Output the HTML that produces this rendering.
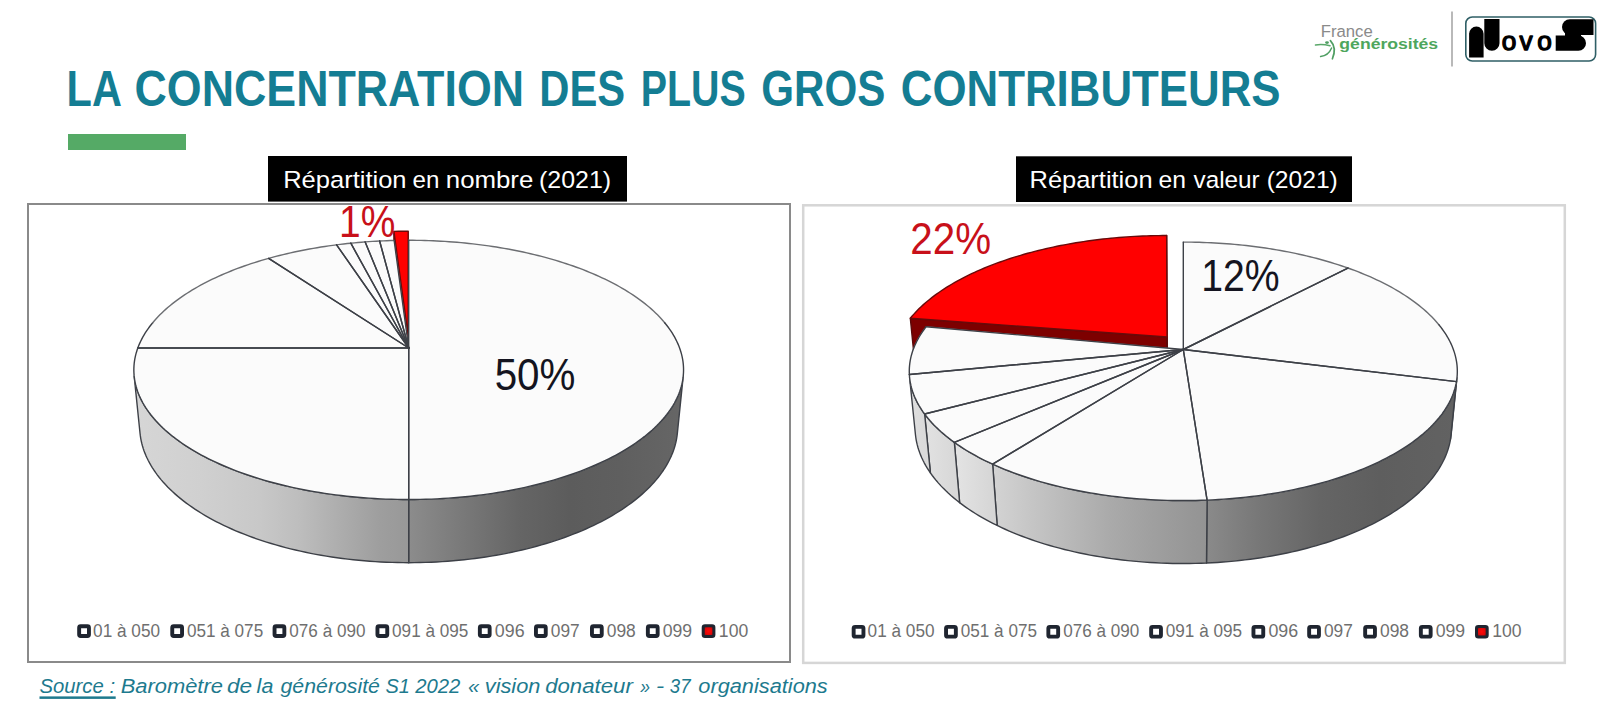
<!DOCTYPE html>
<html><head><meta charset="utf-8"><title>La concentration des plus gros contributeurs</title>
<style>
html,body{margin:0;padding:0;background:#fff;}
body{width:1605px;height:707px;overflow:hidden;position:relative;font-family:'Liberation Sans', sans-serif;}
svg{position:absolute;left:0;top:0;}
text{font-family:'Liberation Sans', sans-serif;}
</style></head><body>
<svg width="1605" height="707" viewBox="0 0 1605 707">
<defs>
<radialGradient id="rdot" cx="0.5" cy="0.5" r="0.6"><stop offset="0" stop-color="#ff0a0a"/><stop offset="0.55" stop-color="#e00808"/><stop offset="1" stop-color="#701018"/></radialGradient>
<linearGradient id="gl" gradientUnits="userSpaceOnUse" x1="130.7" y1="0" x2="686.7" y2="0"><stop offset="0.0000" stop-color="#d0d0d0"/><stop offset="0.1403" stop-color="#cdcdcd"/><stop offset="0.2482" stop-color="#c3c3c3"/><stop offset="0.3561" stop-color="#b0b0b0"/><stop offset="0.4460" stop-color="#9a9a9a"/><stop offset="0.5000" stop-color="#8e8e8e"/><stop offset="0.5899" stop-color="#7a7a7a"/><stop offset="0.6978" stop-color="#666666"/><stop offset="0.7698" stop-color="#5f5f5f"/><stop offset="1.0000" stop-color="#666666"/></linearGradient>
<linearGradient id="gr" gradientUnits="userSpaceOnUse" x1="905.3" y1="0" x2="1461.3" y2="0"><stop offset="0.0000" stop-color="#d0d0d0"/><stop offset="0.1403" stop-color="#cdcdcd"/><stop offset="0.2482" stop-color="#c3c3c3"/><stop offset="0.3561" stop-color="#b0b0b0"/><stop offset="0.4460" stop-color="#9a9a9a"/><stop offset="0.5000" stop-color="#8e8e8e"/><stop offset="0.5899" stop-color="#7a7a7a"/><stop offset="0.6978" stop-color="#666666"/><stop offset="0.7698" stop-color="#5f5f5f"/><stop offset="1.0000" stop-color="#666666"/></linearGradient>
</defs>
<rect x="0" y="0" width="1605" height="707" fill="#ffffff"/>
<!-- title -->
<text x="66.62" y="105.50" font-size="50.20" font-weight="bold" fill="#147d93" textLength="55.25" lengthAdjust="spacingAndGlyphs">LA</text><text x="134.52" y="105.50" font-size="50.20" font-weight="bold" fill="#147d93" textLength="389.51" lengthAdjust="spacingAndGlyphs">CONCENTRATION</text><text x="539.30" y="105.50" font-size="50.20" font-weight="bold" fill="#147d93" textLength="85.84" lengthAdjust="spacingAndGlyphs">DES</text><text x="640.85" y="105.50" font-size="50.20" font-weight="bold" fill="#147d93" textLength="104.92" lengthAdjust="spacingAndGlyphs">PLUS</text><text x="761.32" y="105.50" font-size="50.20" font-weight="bold" fill="#147d93" textLength="124.11" lengthAdjust="spacingAndGlyphs">GROS</text><text x="900.85" y="105.50" font-size="50.20" font-weight="bold" fill="#147d93" textLength="379.72" lengthAdjust="spacingAndGlyphs">CONTRIBUTEURS</text>
<rect x="68" y="134" width="118" height="16" fill="#55aa66"/>
<!-- logos -->
<text x="1320.72" y="36.50" font-size="16.30" fill="#8a8a8a" textLength="52.02" lengthAdjust="spacingAndGlyphs">France</text>
<text x="1339.36" y="48.80" font-size="13.80" font-weight="bold" fill="#4ea65d" textLength="98.81" lengthAdjust="spacingAndGlyphs">générosités</text>
<path d="M1315.5 45 Q1322 43.6 1330 45.8" fill="none" stroke="#5aa86a" stroke-width="1.5" stroke-linecap="round"/>
<path d="M1330.4 40.6 C1334.5 45 1335.2 52 1332.4 58.8" fill="none" stroke="#4f9e62" stroke-width="1.7" stroke-linecap="round"/>
<path d="M1331.6 48 C1329.5 53 1325.5 56 1320.6 56.6" fill="none" stroke="#4f9e62" stroke-width="1.5" stroke-linecap="round"/>
<ellipse cx="1327" cy="42.6" rx="1.9" ry="1.4" fill="#4f9e62"/>
<rect x="1451.2" y="11.5" width="1.6" height="55" fill="#a8a8a8"/>
<rect x="1465.8" y="17" width="129.8" height="44" rx="6.5" fill="#ffffff" stroke="#2f5f66" stroke-width="1.6"/>
<path d="M1469.1 57.5 L1469.1 33.8 A7.25 7.25 0 0 1 1483.6 33.8 L1483.6 57.5 Z" fill="#000"/>
<path d="M1484.3 19.1 L1499.5 19.1 L1499.5 43.2 A7.6 7.6 0 0 1 1484.3 43.2 Z" fill="#000"/>
<g aria-label="NovoS"><text x="1501.8 1519.4 1537.2" y="49.6" font-size="26.2" fill="#000" stroke="#000" stroke-width="1.3" stroke-linejoin="round">ovo</text></g>
<path d="M1593.5 19.3 L1569.8 19.3 A7.8 7.8 0 0 0 1569.8 34.9 L1593.5 34.9 Z" fill="#000"/>
<path d="M1555.7 35.6 L1578.4 35.6 A7.6 7.6 0 0 1 1578.4 50.8 L1555.7 50.8 Z" fill="#000"/>
<rect x="1565" y="33" width="16" height="4" fill="#000"/>
<!-- chart titles -->
<rect x="268" y="156" width="359" height="45.6" fill="#000"/>
<text x="283.20" y="188.00" font-size="24.30" fill="#ffffff" textLength="123.37" lengthAdjust="spacingAndGlyphs">Répartition</text><text x="412.51" y="188.00" font-size="24.30" fill="#ffffff" textLength="26.81" lengthAdjust="spacingAndGlyphs">en</text><text x="445.81" y="188.00" font-size="24.30" fill="#ffffff" textLength="87.50" lengthAdjust="spacingAndGlyphs">nombre</text><text x="539.06" y="188.00" font-size="24.30" fill="#ffffff" textLength="72.06" lengthAdjust="spacingAndGlyphs">(2021)</text>
<rect x="1016" y="156.3" width="336" height="45.7" fill="#000"/>
<text x="1029.51" y="188.20" font-size="24.30" fill="#ffffff" textLength="123.07" lengthAdjust="spacingAndGlyphs">Répartition</text><text x="1158.58" y="188.20" font-size="24.30" fill="#ffffff" textLength="27.47" lengthAdjust="spacingAndGlyphs">en</text><text x="1193.50" y="188.20" font-size="24.30" fill="#ffffff" textLength="66.23" lengthAdjust="spacingAndGlyphs">valeur</text><text x="1266.68" y="188.20" font-size="24.30" fill="#ffffff" textLength="71.12" lengthAdjust="spacingAndGlyphs">(2021)</text>
<!-- frames -->
<rect x="28" y="204" width="762" height="458" fill="none" stroke="#8a8a8a" stroke-width="2"/>
<rect x="803.2" y="205.3" width="761.6" height="457.6" fill="none" stroke="#d6d6d6" stroke-width="2.5"/>
<!-- pies -->
<path d="M408.17 335.62 L393.90 231.37 L394.15 280.66 L408.18 390.79 Z" fill="#8a0000" stroke="#5a0a0a" stroke-width="1.40" stroke-linejoin="round"/>
<path d="M408.17 335.62 L393.90 231.37 L398.68 231.27 L403.46 231.21 L408.24 231.19 Z" fill="#ff0000" stroke="#6a0a0a" stroke-width="1.40" stroke-linejoin="round"/>
<linearGradient id="gl_s0" gradientUnits="userSpaceOnUse" x1="409.0" y1="0" x2="684.0" y2="0"><stop offset="0.0000" stop-color="#8c8c8c"/><stop offset="0.1855" stop-color="#7a7a7a"/><stop offset="0.4036" stop-color="#656565"/><stop offset="0.5855" stop-color="#5c5c5c"/><stop offset="0.7673" stop-color="#5f5f5f"/><stop offset="1.0000" stop-color="#666666"/></linearGradient>
<path d="M683.23 376.17 L682.94 378.50 L682.57 380.83 L682.11 383.17 L681.55 385.51 L680.90 387.85 L680.16 390.20 L679.32 392.54 L678.40 394.88 L677.37 397.23 L676.26 399.56 L675.04 401.90 L673.73 404.23 L672.33 406.56 L670.83 408.88 L669.23 411.19 L667.54 413.50 L665.75 415.79 L663.86 418.08 L661.88 420.36 L659.79 422.62 L657.61 424.87 L655.34 427.11 L652.97 429.33 L650.50 431.53 L647.93 433.72 L645.27 435.89 L642.51 438.04 L639.66 440.17 L636.71 442.28 L633.67 444.37 L630.53 446.44 L627.30 448.48 L623.98 450.49 L620.57 452.48 L617.06 454.44 L613.47 456.37 L609.78 458.27 L606.01 460.14 L602.16 461.98 L598.22 463.79 L594.19 465.56 L590.08 467.29 L585.89 469.00 L581.62 470.66 L577.27 472.29 L572.84 473.87 L568.34 475.42 L563.76 476.93 L559.12 478.39 L554.40 479.82 L549.61 481.20 L544.76 482.53 L539.84 483.82 L534.87 485.06 L529.83 486.26 L524.73 487.41 L519.58 488.51 L514.37 489.56 L509.12 490.57 L503.81 491.52 L498.46 492.42 L493.07 493.27 L487.63 494.07 L482.16 494.81 L476.65 495.50 L471.10 496.14 L465.53 496.73 L459.93 497.26 L454.30 497.73 L448.65 498.15 L442.98 498.52 L437.29 498.82 L431.59 499.08 L425.88 499.27 L420.16 499.41 L414.43 499.50 L408.70 499.53 L408.70 562.68 L414.29 562.66 L419.87 562.57 L425.45 562.42 L431.02 562.21 L436.58 561.95 L442.13 561.63 L447.66 561.25 L453.17 560.81 L458.66 560.31 L464.13 559.76 L469.57 559.15 L474.97 558.48 L480.35 557.76 L485.69 556.98 L490.99 556.15 L496.26 555.26 L501.48 554.32 L506.66 553.33 L511.79 552.28 L516.87 551.18 L521.90 550.03 L526.87 548.83 L531.79 547.58 L536.65 546.28 L541.45 544.93 L546.19 543.54 L550.87 542.10 L555.48 540.61 L560.02 539.08 L564.49 537.50 L568.89 535.88 L573.22 534.22 L577.47 532.52 L581.65 530.78 L585.75 529.01 L589.77 527.19 L593.71 525.33 L597.57 523.45 L601.34 521.52 L605.03 519.56 L608.64 517.58 L612.16 515.55 L615.59 513.50 L618.94 511.42 L622.19 509.31 L625.36 507.18 L628.43 505.02 L631.42 502.83 L634.31 500.62 L637.11 498.39 L639.82 496.14 L642.43 493.86 L644.96 491.57 L647.38 489.26 L649.72 486.93 L651.96 484.59 L654.10 482.23 L656.15 479.85 L658.11 477.47 L659.97 475.07 L661.73 472.66 L663.41 470.24 L664.98 467.82 L666.47 465.38 L667.86 462.94 L669.15 460.49 L670.36 458.04 L671.47 455.59 L672.48 453.13 L673.41 450.67 L674.24 448.21 L674.99 445.74 L675.64 443.28 L676.20 440.82 L676.67 438.37 L677.05 435.91 L677.35 433.46 Z" fill="url(#gl_s0)" stroke="#3d4047" stroke-width="1.40" stroke-linejoin="round"/>
<linearGradient id="gl_s1" gradientUnits="userSpaceOnUse" x1="134.0" y1="0" x2="409.0" y2="0"><stop offset="0.0000" stop-color="#d6d6d6"/><stop offset="0.2400" stop-color="#d0d0d0"/><stop offset="0.4582" stop-color="#c8c8c8"/><stop offset="0.6036" stop-color="#bdbdbd"/><stop offset="0.7491" stop-color="#adadad"/><stop offset="0.8945" stop-color="#9e9e9e"/><stop offset="1.0000" stop-color="#989898"/></linearGradient>
<path d="M408.70 499.53 L402.97 499.50 L397.24 499.41 L391.52 499.27 L385.81 499.08 L380.11 498.82 L374.42 498.52 L368.75 498.15 L363.10 497.73 L357.47 497.26 L351.87 496.73 L346.30 496.14 L340.75 495.50 L335.24 494.81 L329.77 494.07 L324.33 493.27 L318.94 492.42 L313.59 491.52 L308.28 490.57 L303.03 489.56 L297.82 488.51 L292.67 487.41 L287.57 486.26 L282.53 485.06 L277.56 483.82 L272.64 482.53 L267.79 481.20 L263.00 479.82 L258.28 478.39 L253.64 476.93 L249.06 475.42 L244.56 473.87 L240.13 472.29 L235.78 470.66 L231.51 469.00 L227.32 467.29 L223.21 465.56 L219.18 463.79 L215.24 461.98 L211.39 460.14 L207.62 458.27 L203.93 456.37 L200.34 454.44 L196.83 452.48 L193.42 450.49 L190.10 448.48 L186.87 446.44 L183.73 444.37 L180.69 442.28 L177.74 440.17 L174.89 438.04 L172.13 435.89 L169.47 433.72 L166.90 431.53 L164.43 429.33 L162.06 427.11 L159.79 424.87 L157.61 422.62 L155.52 420.36 L153.54 418.08 L151.65 415.79 L149.86 413.50 L148.17 411.19 L146.57 408.88 L145.07 406.56 L143.67 404.23 L142.36 401.90 L141.14 399.56 L140.03 397.23 L139.00 394.88 L138.08 392.54 L137.24 390.20 L136.50 387.85 L135.85 385.51 L135.29 383.17 L134.83 380.83 L134.46 378.50 L134.17 376.17 L140.05 433.46 L140.35 435.91 L140.73 438.37 L141.20 440.82 L141.76 443.28 L142.41 445.74 L143.16 448.21 L143.99 450.67 L144.92 453.13 L145.93 455.59 L147.04 458.04 L148.25 460.49 L149.54 462.94 L150.93 465.38 L152.42 467.82 L153.99 470.24 L155.67 472.66 L157.43 475.07 L159.29 477.47 L161.25 479.85 L163.30 482.23 L165.44 484.59 L167.68 486.93 L170.02 489.26 L172.44 491.57 L174.97 493.86 L177.58 496.14 L180.29 498.39 L183.09 500.62 L185.98 502.83 L188.97 505.02 L192.04 507.18 L195.21 509.31 L198.46 511.42 L201.81 513.50 L205.24 515.55 L208.76 517.58 L212.37 519.56 L216.06 521.52 L219.83 523.45 L223.69 525.33 L227.63 527.19 L231.65 529.01 L235.75 530.78 L239.93 532.52 L244.18 534.22 L248.51 535.88 L252.91 537.50 L257.38 539.08 L261.92 540.61 L266.53 542.10 L271.21 543.54 L275.95 544.93 L280.75 546.28 L285.61 547.58 L290.53 548.83 L295.50 550.03 L300.53 551.18 L305.61 552.28 L310.74 553.33 L315.92 554.32 L321.14 555.26 L326.41 556.15 L331.71 556.98 L337.05 557.76 L342.43 558.48 L347.83 559.15 L353.27 559.76 L358.74 560.31 L364.23 560.81 L369.74 561.25 L375.27 561.63 L380.82 561.95 L386.38 562.21 L391.95 562.42 L397.53 562.57 L403.11 562.66 L408.70 562.68 Z" fill="url(#gl_s1)" stroke="#3d4047" stroke-width="1.40" stroke-linejoin="round"/>
<path d="M408.70 348.00 L408.70 240.28 L412.74 240.29 L416.79 240.33 L420.83 240.40 L424.87 240.50 L428.91 240.63 L432.94 240.78 L436.97 240.97 L441.00 241.18 L445.02 241.41 L449.03 241.68 L453.04 241.98 L457.03 242.30 L461.02 242.65 L465.00 243.03 L468.98 243.43 L472.94 243.87 L476.88 244.33 L480.82 244.82 L484.75 245.34 L488.66 245.88 L492.55 246.46 L496.43 247.06 L500.30 247.69 L504.15 248.35 L507.98 249.03 L511.80 249.74 L515.59 250.48 L519.37 251.25 L523.12 252.04 L526.86 252.87 L530.57 253.72 L534.26 254.59 L537.93 255.50 L541.57 256.43 L545.19 257.39 L548.78 258.38 L552.35 259.39 L555.88 260.43 L559.39 261.50 L562.87 262.59 L566.32 263.71 L569.74 264.86 L573.13 266.03 L576.49 267.23 L579.81 268.46 L583.10 269.71 L586.35 270.99 L589.57 272.30 L592.75 273.63 L595.89 274.99 L598.99 276.37 L602.06 277.78 L605.08 279.21 L608.06 280.67 L611.00 282.15 L613.90 283.66 L616.75 285.20 L619.55 286.75 L622.31 288.34 L625.03 289.94 L627.69 291.57 L630.31 293.23 L632.87 294.90 L635.39 296.61 L637.85 298.33 L640.26 300.08 L642.62 301.84 L644.92 303.64 L647.16 305.45 L649.35 307.28 L651.48 309.14 L653.55 311.02 L655.56 312.92 L657.51 314.84 L659.40 316.77 L661.23 318.73 L662.99 320.71 L664.68 322.71 L666.31 324.72 L667.88 326.76 L669.37 328.81 L670.80 330.88 L672.15 332.96 L673.44 335.07 L674.65 337.18 L675.79 339.32 L676.85 341.47 L677.84 343.63 L678.76 345.81 L679.60 348.00 L680.36 350.20 L681.04 352.42 L681.64 354.65 L682.16 356.89 L682.60 359.14 L682.96 361.40 L683.23 363.67 L683.42 365.95 L683.53 368.23 L683.55 370.53 L683.48 372.83 L683.32 375.13 L683.08 377.45 L682.75 379.76 L682.33 382.08 L681.82 384.40 L681.22 386.73 L680.53 389.06 L679.75 391.38 L678.87 393.71 L677.91 396.04 L676.84 398.36 L675.69 400.68 L674.44 403.00 L673.10 405.31 L671.66 407.62 L670.12 409.92 L668.50 412.21 L666.77 414.50 L664.95 416.77 L663.04 419.04 L661.03 421.29 L658.92 423.53 L656.72 425.76 L654.42 427.98 L652.03 430.18 L649.54 432.36 L646.95 434.53 L644.28 436.68 L641.50 438.80 L638.64 440.91 L635.68 443.00 L632.63 445.07 L629.48 447.11 L626.25 449.12 L622.92 451.12 L619.50 453.08 L616.00 455.02 L612.40 456.93 L608.72 458.81 L604.95 460.65 L601.10 462.47 L597.16 464.26 L593.14 466.01 L589.04 467.72 L584.86 469.40 L580.60 471.05 L576.26 472.65 L571.85 474.22 L567.37 475.75 L562.81 477.23 L558.18 478.68 L553.48 480.09 L548.72 481.45 L543.89 482.76 L539.00 484.04 L534.04 485.26 L529.03 486.44 L523.96 487.58 L518.84 488.66 L513.66 489.70 L508.44 490.69 L503.17 491.63 L497.85 492.52 L492.49 493.36 L487.09 494.14 L481.65 494.88 L476.17 495.56 L470.67 496.19 L465.13 496.77 L459.57 497.29 L453.98 497.76 L448.37 498.17 L442.74 498.53 L437.09 498.83 L431.43 499.08 L425.76 499.28 L420.08 499.42 L414.39 499.50 L408.70 499.53 Z" fill="#fbfbfb" stroke="#fbfbfb" stroke-width="0.4"/>
<path d="M408.70 348.00 L408.70 499.53 L403.01 499.50 L397.32 499.42 L391.64 499.28 L385.97 499.08 L380.31 498.83 L374.66 498.53 L369.03 498.17 L363.42 497.76 L357.83 497.29 L352.27 496.77 L346.73 496.19 L341.23 495.56 L335.75 494.88 L330.31 494.14 L324.91 493.36 L319.55 492.52 L314.23 491.63 L308.96 490.69 L303.74 489.70 L298.56 488.66 L293.44 487.58 L288.37 486.44 L283.36 485.26 L278.40 484.04 L273.51 482.76 L268.68 481.45 L263.92 480.09 L259.22 478.68 L254.59 477.23 L250.03 475.75 L245.55 474.22 L241.14 472.65 L236.80 471.05 L232.54 469.40 L228.36 467.72 L224.26 466.01 L220.24 464.26 L216.30 462.47 L212.45 460.65 L208.68 458.81 L205.00 456.93 L201.40 455.02 L197.90 453.08 L194.48 451.12 L191.15 449.12 L187.92 447.11 L184.77 445.07 L181.72 443.00 L178.76 440.91 L175.90 438.80 L173.12 436.68 L170.45 434.53 L167.86 432.36 L165.37 430.18 L162.98 427.98 L160.68 425.76 L158.48 423.53 L156.37 421.29 L154.36 419.04 L152.45 416.77 L150.63 414.50 L148.90 412.21 L147.28 409.92 L145.74 407.62 L144.30 405.31 L142.96 403.00 L141.71 400.68 L140.56 398.36 L139.49 396.04 L138.53 393.71 L137.65 391.38 L136.87 389.06 L136.18 386.73 L135.58 384.40 L135.07 382.08 L134.65 379.76 L134.32 377.45 L134.08 375.13 L133.92 372.83 L133.85 370.53 L133.87 368.23 L133.98 365.95 L134.17 363.67 L134.44 361.40 L134.80 359.14 L135.24 356.89 L135.76 354.65 L136.36 352.42 L137.04 350.20 L137.80 348.00 Z" fill="#fbfbfb" stroke="#fbfbfb" stroke-width="0.4"/>
<path d="M408.70 348.00 L137.80 348.00 L138.64 345.81 L139.56 343.63 L140.55 341.47 L141.61 339.32 L142.75 337.18 L143.96 335.07 L145.25 332.96 L146.60 330.88 L148.03 328.81 L149.52 326.76 L151.09 324.72 L152.72 322.71 L154.41 320.71 L156.17 318.73 L158.00 316.77 L159.89 314.84 L161.84 312.92 L163.85 311.02 L165.92 309.14 L168.05 307.28 L170.24 305.45 L172.48 303.64 L174.78 301.84 L177.14 300.08 L179.55 298.33 L182.01 296.61 L184.53 294.90 L187.09 293.23 L189.71 291.57 L192.37 289.94 L195.09 288.34 L197.85 286.75 L200.65 285.20 L203.50 283.66 L206.40 282.15 L209.34 280.67 L212.32 279.21 L215.34 277.78 L218.41 276.37 L221.51 274.99 L224.65 273.63 L227.83 272.30 L231.05 270.99 L234.30 269.71 L237.59 268.46 L240.91 267.23 L244.27 266.03 L247.66 264.86 L251.08 263.71 L254.53 262.59 L258.01 261.50 L261.52 260.43 L265.05 259.39 L268.62 258.38 Z" fill="#fbfbfb" stroke="#fbfbfb" stroke-width="0.4"/>
<path d="M408.70 348.00 L268.62 258.38 L272.21 257.39 L275.83 256.43 L279.47 255.50 L283.14 254.59 L286.83 253.72 L290.54 252.87 L294.28 252.04 L298.03 251.25 L301.81 250.48 L305.60 249.74 L309.42 249.03 L313.25 248.35 L317.10 247.69 L320.97 247.06 L324.85 246.46 L328.74 245.88 L332.65 245.34 L336.58 244.82 Z" fill="#fbfbfb" stroke="#fbfbfb" stroke-width="0.4"/>
<path d="M408.70 348.00 L336.58 244.82 L341.30 244.23 L346.05 243.69 L350.81 243.19 Z" fill="#fbfbfb" stroke="#fbfbfb" stroke-width="0.4"/>
<path d="M408.70 348.00 L350.81 243.19 L355.58 242.72 L360.37 242.30 L365.16 241.91 Z" fill="#fbfbfb" stroke="#fbfbfb" stroke-width="0.4"/>
<path d="M408.70 348.00 L365.16 241.91 L369.97 241.57 L374.79 241.27 L379.62 241.00 Z" fill="#fbfbfb" stroke="#fbfbfb" stroke-width="0.4"/>
<path d="M408.70 348.00 L379.62 241.00 L384.46 240.78 L389.30 240.60 L394.14 240.46 Z" fill="#fbfbfb" stroke="#fbfbfb" stroke-width="0.4"/>
<path d="M408.70 240.28 L412.74 240.29 L416.79 240.33 L420.83 240.40 L424.87 240.50 L428.91 240.63 L432.94 240.78 L436.97 240.97 L441.00 241.18 L445.02 241.41 L449.03 241.68 L453.04 241.98 L457.03 242.30 L461.02 242.65 L465.00 243.03 L468.98 243.43 L472.94 243.87 L476.88 244.33 L480.82 244.82 L484.75 245.34 L488.66 245.88 L492.55 246.46 L496.43 247.06 L500.30 247.69 L504.15 248.35 L507.98 249.03 L511.80 249.74 L515.59 250.48 L519.37 251.25 L523.12 252.04 L526.86 252.87 L530.57 253.72 L534.26 254.59 L537.93 255.50 L541.57 256.43 L545.19 257.39 L548.78 258.38 L552.35 259.39 L555.88 260.43 L559.39 261.50 L562.87 262.59 L566.32 263.71 L569.74 264.86 L573.13 266.03 L576.49 267.23 L579.81 268.46 L583.10 269.71 L586.35 270.99 L589.57 272.30 L592.75 273.63 L595.89 274.99 L598.99 276.37 L602.06 277.78 L605.08 279.21 L608.06 280.67 L611.00 282.15 L613.90 283.66 L616.75 285.20 L619.55 286.75 L622.31 288.34 L625.03 289.94 L627.69 291.57 L630.31 293.23 L632.87 294.90 L635.39 296.61 L637.85 298.33 L640.26 300.08 L642.62 301.84 L644.92 303.64 L647.16 305.45 L649.35 307.28 L651.48 309.14 L653.55 311.02 L655.56 312.92 L657.51 314.84 L659.40 316.77 L661.23 318.73 L662.99 320.71 L664.68 322.71" fill="none" stroke="#6c6e72" stroke-width="1.40" stroke-linecap="round"/>
<path d="M664.68 322.71 L666.31 324.72 L667.88 326.76 L669.37 328.81 L670.80 330.88 L672.15 332.96 L673.44 335.07 L674.65 337.18 L675.79 339.32 L676.85 341.47 L677.84 343.63 L678.76 345.81 L679.60 348.00 L680.36 350.20 L681.04 352.42 L681.64 354.65 L682.16 356.89 L682.60 359.14 L682.96 361.40 L683.23 363.67 L683.42 365.95 L683.53 368.23 L683.55 370.53 L683.48 372.83 L683.32 375.13 L683.08 377.45 L682.75 379.76 L682.33 382.08 L681.82 384.40 L681.22 386.73 L680.53 389.06 L679.75 391.38 L678.87 393.71 L677.91 396.04 L676.84 398.36 L675.69 400.68 L674.44 403.00 L673.10 405.31 L671.66 407.62 L670.12 409.92 L668.50 412.21 L666.77 414.50 L664.95 416.77 L663.04 419.04 L661.03 421.29 L658.92 423.53 L656.72 425.76 L654.42 427.98 L652.03 430.18 L649.54 432.36 L646.95 434.53 L644.28 436.68 L641.50 438.80 L638.64 440.91 L635.68 443.00 L632.63 445.07 L629.48 447.11 L626.25 449.12 L622.92 451.12 L619.50 453.08 L616.00 455.02 L612.40 456.93 L608.72 458.81 L604.95 460.65 L601.10 462.47 L597.16 464.26 L593.14 466.01 L589.04 467.72 L584.86 469.40 L580.60 471.05 L576.26 472.65 L571.85 474.22 L567.37 475.75 L562.81 477.23 L558.18 478.68 L553.48 480.09 L548.72 481.45 L543.89 482.76 L539.00 484.04 L534.04 485.26 L529.03 486.44 L523.96 487.58 L518.84 488.66 L513.66 489.70 L508.44 490.69 L503.17 491.63 L497.85 492.52 L492.49 493.36 L487.09 494.14 L481.65 494.88 L476.17 495.56 L470.67 496.19 L465.13 496.77 L459.57 497.29 L453.98 497.76 L448.37 498.17 L442.74 498.53 L437.09 498.83 L431.43 499.08 L425.76 499.28 L420.08 499.42 L414.39 499.50 L408.70 499.53 L403.01 499.50 L397.32 499.42 L391.64 499.28 L385.97 499.08 L380.31 498.83 L374.66 498.53 L369.03 498.17 L363.42 497.76 L357.83 497.29 L352.27 496.77 L346.73 496.19 L341.23 495.56 L335.75 494.88 L330.31 494.14 L324.91 493.36 L319.55 492.52 L314.23 491.63 L308.96 490.69 L303.74 489.70 L298.56 488.66 L293.44 487.58 L288.37 486.44 L283.36 485.26 L278.40 484.04 L273.51 482.76 L268.68 481.45 L263.92 480.09 L259.22 478.68 L254.59 477.23 L250.03 475.75 L245.55 474.22 L241.14 472.65 L236.80 471.05 L232.54 469.40 L228.36 467.72 L224.26 466.01 L220.24 464.26 L216.30 462.47 L212.45 460.65 L208.68 458.81 L205.00 456.93 L201.40 455.02 L197.90 453.08 L194.48 451.12 L191.15 449.12 L187.92 447.11 L184.77 445.07 L181.72 443.00 L178.76 440.91 L175.90 438.80 L173.12 436.68 L170.45 434.53 L167.86 432.36 L165.37 430.18 L162.98 427.98 L160.68 425.76 L158.48 423.53 L156.37 421.29 L154.36 419.04 L152.45 416.77 L150.63 414.50 L148.90 412.21 L147.28 409.92 L145.74 407.62 L144.30 405.31 L142.96 403.00 L141.71 400.68 L140.56 398.36 L139.49 396.04 L138.53 393.71 L137.65 391.38 L136.87 389.06 L136.18 386.73 L135.58 384.40 L135.07 382.08 L134.65 379.76 L134.32 377.45 L134.08 375.13 L133.92 372.83 L133.85 370.53 L133.87 368.23 L133.98 365.95 L134.17 363.67 L134.44 361.40 L134.80 359.14 L135.24 356.89 L135.76 354.65 L136.36 352.42 L137.04 350.20 L137.80 348.00 L138.64 345.81 L139.56 343.63 L140.55 341.47 L141.61 339.32 L142.75 337.18 L143.96 335.07 L145.25 332.96 L146.60 330.88 L148.03 328.81 L149.52 326.76 L151.09 324.72 L152.72 322.71" fill="none" stroke="#3d4047" stroke-width="1.40" stroke-linecap="round"/>
<path d="M152.72 322.71 L154.41 320.71 L156.17 318.73 L158.00 316.77 L159.89 314.84 L161.84 312.92 L163.85 311.02 L165.92 309.14 L168.05 307.28 L170.24 305.45 L172.48 303.64 L174.78 301.84 L177.14 300.08 L179.55 298.33 L182.01 296.61 L184.53 294.90 L187.09 293.23 L189.71 291.57 L192.37 289.94 L195.09 288.34 L197.85 286.75 L200.65 285.20 L203.50 283.66 L206.40 282.15 L209.34 280.67 L212.32 279.21 L215.34 277.78 L218.41 276.37 L221.51 274.99 L224.65 273.63 L227.83 272.30 L231.05 270.99 L234.30 269.71 L237.59 268.46 L240.91 267.23 L244.27 266.03 L247.66 264.86 L251.08 263.71 L254.53 262.59 L258.01 261.50 L261.52 260.43 L265.05 259.39 L268.62 258.38 L272.21 257.39 L275.83 256.43 L279.47 255.50 L283.14 254.59 L286.83 253.72 L290.54 252.87 L294.28 252.04 L298.03 251.25 L301.81 250.48 L305.60 249.74 L309.42 249.03 L313.25 248.35 L317.10 247.69 L320.97 247.06 L324.85 246.46 L328.74 245.88 L332.65 245.34 L336.58 244.82 L340.12 244.38 L343.67 243.96 L347.24 243.56 L350.81 243.19 L354.38 242.83 L357.97 242.50 L361.56 242.20 L365.16 241.91 L368.77 241.65 L372.38 241.41 L376.00 241.20 L379.62 241.00 L383.25 240.83 L386.88 240.69 L390.51 240.56 L394.14 240.46" fill="none" stroke="#6c6e72" stroke-width="1.40" stroke-linecap="round"/>
<path d="M408.70 348.00 L408.70 240.28" fill="none" stroke="#3d4047" stroke-width="1.40" stroke-linecap="round"/>
<path d="M408.70 348.00 L408.70 499.53" fill="none" stroke="#3d4047" stroke-width="1.40" stroke-linecap="round"/>
<path d="M408.70 348.00 L408.70 499.53" fill="none" stroke="#3d4047" stroke-width="1.40" stroke-linecap="round"/>
<path d="M408.70 348.00 L137.80 348.00" fill="none" stroke="#3d4047" stroke-width="1.40" stroke-linecap="round"/>
<path d="M408.70 348.00 L137.80 348.00" fill="none" stroke="#3d4047" stroke-width="1.40" stroke-linecap="round"/>
<path d="M408.70 348.00 L268.62 258.38" fill="none" stroke="#3d4047" stroke-width="1.40" stroke-linecap="round"/>
<path d="M408.70 348.00 L268.62 258.38" fill="none" stroke="#3d4047" stroke-width="1.40" stroke-linecap="round"/>
<path d="M408.70 348.00 L336.58 244.82" fill="none" stroke="#3d4047" stroke-width="1.40" stroke-linecap="round"/>
<path d="M408.70 348.00 L336.58 244.82" fill="none" stroke="#3d4047" stroke-width="1.40" stroke-linecap="round"/>
<path d="M408.70 348.00 L350.81 243.19" fill="none" stroke="#3d4047" stroke-width="1.40" stroke-linecap="round"/>
<path d="M408.70 348.00 L350.81 243.19" fill="none" stroke="#3d4047" stroke-width="1.40" stroke-linecap="round"/>
<path d="M408.70 348.00 L365.16 241.91" fill="none" stroke="#3d4047" stroke-width="1.40" stroke-linecap="round"/>
<path d="M408.70 348.00 L365.16 241.91" fill="none" stroke="#3d4047" stroke-width="1.40" stroke-linecap="round"/>
<path d="M408.70 348.00 L379.62 241.00" fill="none" stroke="#3d4047" stroke-width="1.40" stroke-linecap="round"/>
<path d="M408.70 348.00 L379.62 241.00" fill="none" stroke="#3d4047" stroke-width="1.40" stroke-linecap="round"/>
<path d="M408.70 348.00 L394.14 240.46" fill="none" stroke="#3d4047" stroke-width="1.40" stroke-linecap="round"/>
<path d="M1167.07 336.94 L910.31 318.28 L915.72 372.27 L1167.47 392.14 Z" fill="#7d0000" stroke="#5a0a0a" stroke-width="1.40" stroke-linejoin="round"/>
<path d="M1167.07 336.94 L1166.65 235.54 L1166.95 284.81 L1167.47 392.14 Z" fill="#7d0000" stroke="#5a0a0a" stroke-width="1.40" stroke-linejoin="round"/>
<path d="M1167.07 336.94 L910.31 318.28 L911.95 316.31 L913.66 314.35 L915.43 312.42 L917.26 310.50 L919.16 308.61 L921.12 306.73 L923.13 304.87 L925.21 303.03 L927.35 301.22 L929.54 299.42 L931.79 297.65 L934.09 295.89 L936.45 294.16 L938.86 292.45 L941.33 290.76 L943.84 289.10 L946.41 287.45 L949.02 285.83 L951.68 284.24 L954.40 282.66 L957.15 281.11 L959.96 279.59 L962.80 278.08 L965.69 276.60 L968.63 275.15 L971.60 273.72 L974.62 272.32 L977.67 270.94 L980.77 269.58 L983.90 268.25 L987.07 266.95 L990.28 265.67 L993.52 264.41 L996.79 263.18 L1000.10 261.98 L1003.45 260.80 L1006.82 259.65 L1010.23 258.53 L1013.66 257.43 L1017.12 256.35 L1020.62 255.31 L1024.14 254.29 L1027.69 253.29 L1031.26 252.33 L1034.86 251.39 L1038.48 250.47 L1042.13 249.58 L1045.79 248.72 L1049.48 247.89 L1053.20 247.08 L1056.93 246.30 L1060.68 245.55 L1064.45 244.82 L1068.24 244.12 L1072.05 243.45 L1075.87 242.81 L1079.71 242.19 L1083.56 241.60 L1087.43 241.04 L1091.31 240.50 L1095.20 239.99 L1099.11 239.51 L1103.02 239.06 L1106.95 238.63 L1110.89 238.23 L1114.84 237.86 L1118.79 237.52 L1122.75 237.20 L1126.72 236.91 L1130.70 236.65 L1134.68 236.42 L1138.67 236.21 L1142.66 236.03 L1146.65 235.88 L1150.65 235.76 L1154.65 235.66 L1158.65 235.59 L1162.65 235.55 L1166.65 235.54 Z" fill="#ff0000" stroke="#6a0a0a" stroke-width="1.40" stroke-linejoin="round"/>
<path d="M1457.00 377.58 L1456.45 381.63 L1450.57 438.96 L1451.14 434.71 Z" fill="url(#gr)" stroke="#3d4047" stroke-width="1.40" stroke-linejoin="round"/>
<linearGradient id="gr_s2" gradientUnits="userSpaceOnUse" x1="1207.0" y1="0" x2="1457.0" y2="0"><stop offset="0.0000" stop-color="#8a8a8a"/><stop offset="0.2120" stop-color="#777777"/><stop offset="0.4520" stop-color="#656565"/><stop offset="0.6920" stop-color="#5e5e5e"/><stop offset="1.0000" stop-color="#626262"/></linearGradient>
<path d="M1456.45 381.63 L1456.01 383.96 L1455.48 386.30 L1454.86 388.64 L1454.14 390.98 L1453.33 393.32 L1452.43 395.65 L1451.43 397.99 L1450.34 400.33 L1449.15 402.66 L1447.87 404.99 L1446.49 407.31 L1445.02 409.63 L1443.45 411.94 L1441.78 414.24 L1440.02 416.54 L1438.15 418.82 L1436.20 421.10 L1434.14 423.36 L1431.99 425.61 L1429.74 427.85 L1427.39 430.07 L1424.95 432.27 L1422.41 434.46 L1419.78 436.63 L1417.04 438.79 L1414.22 440.92 L1411.30 443.03 L1408.28 445.12 L1405.17 447.18 L1401.97 449.22 L1398.67 451.24 L1395.28 453.23 L1391.81 455.19 L1388.24 457.13 L1384.58 459.03 L1380.84 460.91 L1377.00 462.75 L1373.09 464.56 L1369.08 466.34 L1365.00 468.08 L1360.83 469.78 L1356.58 471.45 L1352.26 473.08 L1347.86 474.68 L1343.38 476.23 L1338.82 477.74 L1334.20 479.21 L1329.50 480.64 L1324.74 482.03 L1319.91 483.37 L1315.01 484.67 L1310.05 485.92 L1305.04 487.12 L1299.96 488.28 L1294.83 489.38 L1289.64 490.44 L1284.40 491.45 L1279.12 492.41 L1273.78 493.32 L1268.41 494.18 L1262.99 494.99 L1257.53 495.74 L1252.04 496.44 L1246.51 497.09 L1240.95 497.68 L1235.36 498.22 L1229.75 498.70 L1224.11 499.13 L1218.45 499.51 L1212.78 499.82 L1207.09 500.09 L1206.50 563.03 L1212.05 562.76 L1217.58 562.43 L1223.10 562.04 L1228.60 561.59 L1234.08 561.08 L1239.53 560.52 L1244.95 559.90 L1250.34 559.23 L1255.70 558.50 L1261.03 557.71 L1266.32 556.87 L1271.56 555.97 L1276.77 555.02 L1281.93 554.02 L1287.04 552.96 L1292.10 551.86 L1297.11 550.70 L1302.07 549.49 L1306.97 548.23 L1311.81 546.93 L1316.59 545.57 L1321.31 544.17 L1325.96 542.72 L1330.55 541.23 L1335.07 539.69 L1339.52 538.11 L1343.90 536.49 L1348.20 534.82 L1352.43 533.12 L1356.59 531.37 L1360.66 529.59 L1364.66 527.76 L1368.57 525.91 L1372.41 524.01 L1376.16 522.09 L1379.83 520.13 L1383.41 518.13 L1386.90 516.11 L1390.31 514.05 L1393.63 511.97 L1396.86 509.86 L1400.00 507.72 L1403.05 505.56 L1406.01 503.37 L1408.88 501.16 L1411.65 498.93 L1414.33 496.67 L1416.92 494.40 L1419.42 492.11 L1421.82 489.79 L1424.13 487.47 L1426.34 485.12 L1428.46 482.76 L1430.48 480.39 L1432.41 478.01 L1434.25 475.61 L1435.99 473.20 L1437.63 470.79 L1439.19 468.36 L1440.64 465.93 L1442.01 463.49 L1443.28 461.05 L1444.46 458.60 L1445.54 456.15 L1446.53 453.69 L1447.43 451.24 L1448.24 448.78 L1448.96 446.32 L1449.59 443.87 L1450.13 441.41 L1450.57 438.96 Z" fill="url(#gr_s2)" stroke="#3d4047" stroke-width="1.40" stroke-linejoin="round"/>
<linearGradient id="gr_s3" gradientUnits="userSpaceOnUse" x1="992.0" y1="0" x2="1207.0" y2="0"><stop offset="0.0000" stop-color="#d4d4d4"/><stop offset="0.1767" stop-color="#c6c6c6"/><stop offset="0.3628" stop-color="#b8b8b8"/><stop offset="0.5488" stop-color="#aaaaaa"/><stop offset="0.7349" stop-color="#a0a0a0"/><stop offset="1.0000" stop-color="#939393"/></linearGradient>
<path d="M1207.09 500.09 L1201.31 500.29 L1195.53 500.44 L1189.73 500.54 L1183.94 500.57 L1178.14 500.55 L1172.35 500.47 L1166.56 500.33 L1160.78 500.14 L1155.01 499.88 L1149.26 499.57 L1143.52 499.20 L1137.80 498.78 L1132.11 498.30 L1126.44 497.76 L1120.81 497.17 L1115.20 496.52 L1109.63 495.81 L1104.09 495.06 L1098.60 494.24 L1093.15 493.38 L1087.74 492.46 L1082.38 491.49 L1077.07 490.47 L1071.82 489.39 L1066.61 488.27 L1061.47 487.10 L1056.39 485.88 L1051.36 484.61 L1046.41 483.29 L1041.52 481.93 L1036.69 480.52 L1031.94 479.07 L1027.26 477.57 L1022.66 476.04 L1018.13 474.46 L1013.68 472.84 L1009.31 471.18 L1005.02 469.48 L1000.81 467.74 L996.69 465.97 L992.65 464.17 L997.18 525.49 L1001.13 527.39 L1005.16 529.24 L1009.28 531.05 L1013.47 532.83 L1017.75 534.56 L1022.10 536.26 L1026.53 537.91 L1031.03 539.52 L1035.60 541.08 L1040.24 542.60 L1044.95 544.07 L1049.73 545.49 L1054.57 546.87 L1059.48 548.19 L1064.44 549.47 L1069.46 550.69 L1074.54 551.87 L1079.67 552.99 L1084.85 554.06 L1090.08 555.07 L1095.36 556.03 L1100.68 556.93 L1106.04 557.78 L1111.44 558.57 L1116.88 559.31 L1122.35 559.98 L1127.85 560.60 L1133.37 561.17 L1138.93 561.67 L1144.50 562.11 L1150.10 562.50 L1155.71 562.82 L1161.34 563.08 L1166.97 563.29 L1172.62 563.43 L1178.27 563.52 L1183.92 563.54 L1189.57 563.50 L1195.22 563.41 L1200.87 563.25 L1206.50 563.03 Z" fill="url(#gr_s3)" stroke="#3d4047" stroke-width="1.40" stroke-linejoin="round"/>
<linearGradient id="gr_s4" gradientUnits="userSpaceOnUse" x1="954.0" y1="0" x2="992.0" y2="0"><stop offset="0.0000" stop-color="#e4e4e4"/><stop offset="1.0000" stop-color="#d6d6d6"/></linearGradient>
<path d="M992.65 464.17 L988.71 462.33 L984.86 460.46 L981.10 458.56 L977.43 456.63 L973.85 454.67 L970.37 452.68 L966.97 450.67 L963.67 448.62 L960.47 446.55 L957.36 444.46 L954.34 442.34 L959.65 502.65 L962.61 504.87 L965.66 507.06 L968.80 509.23 L972.04 511.37 L975.36 513.48 L978.78 515.56 L982.28 517.61 L985.88 519.63 L989.56 521.62 L993.33 523.58 L997.18 525.49 Z" fill="url(#gr_s4)" stroke="#3d4047" stroke-width="1.40" stroke-linejoin="round"/>
<linearGradient id="gr_s5" gradientUnits="userSpaceOnUse" x1="924.0" y1="0" x2="954.0" y2="0"><stop offset="0.0000" stop-color="#e2e2e2"/><stop offset="1.0000" stop-color="#d8d8d8"/></linearGradient>
<path d="M954.34 442.34 L951.26 440.09 L948.29 437.80 L945.43 435.50 L942.68 433.17 L940.04 430.83 L937.50 428.47 L935.08 426.09 L932.77 423.69 L930.57 421.28 L928.47 418.86 L926.49 416.42 L924.62 413.98 L930.41 472.92 L932.26 475.49 L934.22 478.04 L936.28 480.58 L938.45 483.11 L940.72 485.62 L943.11 488.12 L945.60 490.59 L948.20 493.05 L950.90 495.49 L953.71 497.90 L956.63 500.29 L959.65 502.65 Z" fill="url(#gr_s5)" stroke="#3d4047" stroke-width="1.40" stroke-linejoin="round"/>
<linearGradient id="gr_s6" gradientUnits="userSpaceOnUse" x1="908.0" y1="0" x2="924.0" y2="0"><stop offset="0.0000" stop-color="#e0e0e0"/><stop offset="1.0000" stop-color="#dadada"/></linearGradient>
<path d="M924.62 413.98 L922.90 411.58 L921.28 409.17 L919.77 406.75 L918.36 404.33 L917.05 401.90 L915.85 399.47 L914.75 397.04 L913.75 394.61 L912.86 392.17 L912.07 389.73 L911.37 387.30 L910.78 384.86 L910.29 382.43 L909.89 380.01 L909.60 377.58 L915.46 434.71 L915.77 437.25 L916.17 439.81 L916.67 442.36 L917.27 444.92 L917.96 447.47 L918.76 450.03 L919.65 452.59 L920.64 455.15 L921.74 457.70 L922.93 460.26 L924.22 462.80 L925.62 465.34 L927.11 467.88 L928.71 470.40 L930.41 472.92 Z" fill="url(#gr_s6)" stroke="#3d4047" stroke-width="1.40" stroke-linejoin="round"/>
<path d="M1183.30 349.50 L1183.30 242.10 L1187.35 242.11 L1191.40 242.16 L1195.45 242.23 L1199.50 242.33 L1203.54 242.45 L1207.58 242.61 L1211.62 242.79 L1215.65 243.00 L1219.68 243.24 L1223.69 243.51 L1227.71 243.81 L1231.71 244.13 L1235.71 244.49 L1239.69 244.87 L1243.67 245.28 L1247.64 245.71 L1251.59 246.18 L1255.53 246.67 L1259.46 247.19 L1263.38 247.74 L1267.28 248.32 L1271.17 248.92 L1275.04 249.56 L1278.89 250.22 L1282.73 250.91 L1286.55 251.62 L1290.35 252.37 L1294.12 253.14 L1297.88 253.94 L1301.62 254.77 L1305.34 255.62 L1309.03 256.51 L1312.70 257.42 L1316.34 258.36 L1319.96 259.32 L1323.56 260.31 L1327.12 261.33 L1330.66 262.38 L1334.17 263.45 L1337.65 264.55 L1341.10 265.68 L1344.52 266.84 L1347.91 268.02 Z" fill="#fbfbfb" stroke="#fbfbfb" stroke-width="0.4"/>
<path d="M1183.30 349.50 L1347.91 268.02 L1351.25 269.22 L1354.55 270.45 L1357.83 271.70 L1361.06 272.98 L1364.26 274.29 L1367.42 275.62 L1370.55 276.98 L1373.63 278.36 L1376.68 279.77 L1379.69 281.21 L1382.65 282.67 L1385.57 284.15 L1388.45 285.66 L1391.29 287.19 L1394.08 288.75 L1396.82 290.33 L1399.51 291.94 L1402.16 293.57 L1404.76 295.22 L1407.31 296.90 L1409.80 298.60 L1412.25 300.32 L1414.64 302.07 L1416.98 303.84 L1419.26 305.63 L1421.49 307.44 L1423.66 309.27 L1425.77 311.13 L1427.82 313.01 L1429.82 314.90 L1431.75 316.82 L1433.62 318.76 L1435.43 320.71 L1437.17 322.69 L1438.85 324.68 L1440.46 326.70 L1442.00 328.73 L1443.48 330.78 L1444.89 332.84 L1446.22 334.93 L1447.49 337.03 L1448.68 339.14 L1449.81 341.27 L1450.85 343.42 L1451.83 345.58 L1452.72 347.75 L1453.54 349.94 L1454.28 352.14 L1454.95 354.35 L1455.53 356.57 L1456.03 358.81 L1456.46 361.06 L1456.80 363.31 L1457.05 365.58 L1457.22 367.85 L1457.31 370.13 L1457.31 372.42 L1457.23 374.71 L1457.06 377.01 L1456.80 379.32 L1456.45 381.63 Z" fill="#fbfbfb" stroke="#fbfbfb" stroke-width="0.4"/>
<path d="M1183.30 349.50 L1456.45 381.63 L1456.01 383.96 L1455.48 386.30 L1454.86 388.64 L1454.14 390.98 L1453.33 393.32 L1452.43 395.65 L1451.43 397.99 L1450.34 400.33 L1449.15 402.66 L1447.87 404.99 L1446.49 407.31 L1445.02 409.63 L1443.45 411.94 L1441.78 414.24 L1440.02 416.54 L1438.15 418.82 L1436.20 421.10 L1434.14 423.36 L1431.99 425.61 L1429.74 427.85 L1427.39 430.07 L1424.95 432.27 L1422.41 434.46 L1419.78 436.63 L1417.04 438.79 L1414.22 440.92 L1411.30 443.03 L1408.28 445.12 L1405.17 447.18 L1401.97 449.22 L1398.67 451.24 L1395.28 453.23 L1391.81 455.19 L1388.24 457.13 L1384.58 459.03 L1380.84 460.91 L1377.00 462.75 L1373.09 464.56 L1369.08 466.34 L1365.00 468.08 L1360.83 469.78 L1356.58 471.45 L1352.26 473.08 L1347.86 474.68 L1343.38 476.23 L1338.82 477.74 L1334.20 479.21 L1329.50 480.64 L1324.74 482.03 L1319.91 483.37 L1315.01 484.67 L1310.05 485.92 L1305.04 487.12 L1299.96 488.28 L1294.83 489.38 L1289.64 490.44 L1284.40 491.45 L1279.12 492.41 L1273.78 493.32 L1268.41 494.18 L1262.99 494.99 L1257.53 495.74 L1252.04 496.44 L1246.51 497.09 L1240.95 497.68 L1235.36 498.22 L1229.75 498.70 L1224.11 499.13 L1218.45 499.51 L1212.78 499.82 L1207.09 500.09 Z" fill="#fbfbfb" stroke="#fbfbfb" stroke-width="0.4"/>
<path d="M1183.30 349.50 L1207.09 500.09 L1201.31 500.29 L1195.53 500.44 L1189.73 500.54 L1183.94 500.57 L1178.14 500.55 L1172.35 500.47 L1166.56 500.33 L1160.78 500.14 L1155.01 499.88 L1149.26 499.57 L1143.52 499.20 L1137.80 498.78 L1132.11 498.30 L1126.44 497.76 L1120.81 497.17 L1115.20 496.52 L1109.63 495.81 L1104.09 495.06 L1098.60 494.24 L1093.15 493.38 L1087.74 492.46 L1082.38 491.49 L1077.07 490.47 L1071.82 489.39 L1066.61 488.27 L1061.47 487.10 L1056.39 485.88 L1051.36 484.61 L1046.41 483.29 L1041.52 481.93 L1036.69 480.52 L1031.94 479.07 L1027.26 477.57 L1022.66 476.04 L1018.13 474.46 L1013.68 472.84 L1009.31 471.18 L1005.02 469.48 L1000.81 467.74 L996.69 465.97 L992.65 464.17 Z" fill="#fbfbfb" stroke="#fbfbfb" stroke-width="0.4"/>
<path d="M1183.30 349.50 L992.65 464.17 L988.71 462.33 L984.86 460.46 L981.10 458.56 L977.43 456.63 L973.85 454.67 L970.37 452.68 L966.97 450.67 L963.67 448.62 L960.47 446.55 L957.36 444.46 L954.34 442.34 Z" fill="#fbfbfb" stroke="#fbfbfb" stroke-width="0.4"/>
<path d="M1183.30 349.50 L954.34 442.34 L951.26 440.09 L948.29 437.80 L945.43 435.50 L942.68 433.17 L940.04 430.83 L937.50 428.47 L935.08 426.09 L932.77 423.69 L930.57 421.28 L928.47 418.86 L926.49 416.42 L924.62 413.98 Z" fill="#fbfbfb" stroke="#fbfbfb" stroke-width="0.4"/>
<path d="M1183.30 349.50 L924.62 413.98 L922.97 411.68 L921.41 409.37 L919.95 407.06 L918.59 404.74 L917.32 402.42 L916.14 400.09 L915.06 397.76 L914.08 395.43 L913.19 393.09 L912.39 390.76 L911.68 388.43 L911.07 386.10 L910.55 383.77 L910.11 381.44 L909.77 379.12 L909.52 376.80 L909.36 374.48 Z" fill="#fbfbfb" stroke="#fbfbfb" stroke-width="0.4"/>
<path d="M1183.30 349.50 L909.36 374.48 L909.28 372.09 L909.30 369.71 L909.41 367.33 L909.61 364.96 L909.90 362.60 L910.29 360.25 L910.76 357.91 L911.32 355.59 L911.97 353.27 L912.70 350.97 L913.52 348.69 L914.42 346.41 L915.40 344.16 L916.47 341.91 L917.62 339.69 L918.85 337.48 L920.15 335.29 L921.54 333.11 L923.00 330.95 L924.53 328.82 L926.14 326.70 Z" fill="#fbfbfb" stroke="#fbfbfb" stroke-width="0.4"/>
<path d="M1183.30 242.10 L1187.26 242.11 L1191.22 242.15 L1195.17 242.22 L1199.13 242.32 L1203.08 242.44 L1207.03 242.59 L1210.98 242.76 L1214.92 242.96 L1218.85 243.19 L1222.78 243.45 L1226.70 243.73 L1230.62 244.04 L1234.53 244.38 L1238.43 244.74 L1242.32 245.13 L1246.20 245.55 L1250.06 246.00 L1253.92 246.47 L1257.77 246.96 L1261.60 247.49 L1265.42 248.04 L1269.23 248.62 L1273.02 249.22 L1276.79 249.85 L1280.55 250.51 L1284.29 251.20 L1288.02 251.91 L1291.72 252.65 L1295.41 253.41 L1299.08 254.20 L1302.72 255.02 L1306.35 255.86 L1309.95 256.73 L1313.53 257.63 L1317.09 258.55 L1320.62 259.50 L1324.13 260.47 L1327.61 261.47 L1331.06 262.50 L1334.49 263.55 L1337.89 264.63 L1341.26 265.73 L1344.60 266.86 L1347.91 268.02 L1351.25 269.22 L1354.55 270.45 L1357.83 271.70 L1361.06 272.98 L1364.26 274.29 L1367.42 275.62 L1370.55 276.98 L1373.63 278.36 L1376.68 279.77 L1379.69 281.21 L1382.65 282.67 L1385.57 284.15 L1388.45 285.66 L1391.29 287.19 L1394.08 288.75 L1396.82 290.33 L1399.51 291.94 L1402.16 293.57 L1404.76 295.22 L1407.31 296.90 L1409.80 298.60 L1412.25 300.32 L1414.64 302.07 L1416.98 303.84 L1419.26 305.63 L1421.49 307.44 L1423.66 309.27 L1425.77 311.13 L1427.82 313.01 L1429.82 314.90 L1431.75 316.82 L1433.62 318.76 L1435.43 320.71 L1437.17 322.69 L1438.85 324.68" fill="none" stroke="#6c6e72" stroke-width="1.40" stroke-linecap="round"/>
<path d="M1438.85 324.68 L1440.46 326.70 L1442.00 328.73 L1443.48 330.78 L1444.89 332.84 L1446.22 334.93 L1447.49 337.03 L1448.68 339.14 L1449.81 341.27 L1450.85 343.42 L1451.83 345.58 L1452.72 347.75 L1453.54 349.94 L1454.28 352.14 L1454.95 354.35 L1455.53 356.57 L1456.03 358.81 L1456.46 361.06 L1456.80 363.31 L1457.05 365.58 L1457.22 367.85 L1457.31 370.13 L1457.31 372.42 L1457.23 374.71 L1457.06 377.01 L1456.80 379.32 L1456.45 381.63 L1456.02 383.93 L1455.50 386.23 L1454.89 388.54 L1454.18 390.85 L1453.39 393.15 L1452.51 395.46 L1451.53 397.77 L1450.47 400.07 L1449.31 402.37 L1448.05 404.67 L1446.71 406.96 L1445.27 409.24 L1443.74 411.53 L1442.11 413.80 L1440.39 416.06 L1438.58 418.32 L1436.67 420.56 L1434.66 422.80 L1432.57 425.02 L1430.37 427.23 L1428.09 429.42 L1425.71 431.60 L1423.23 433.77 L1420.66 435.91 L1418.00 438.04 L1415.25 440.15 L1412.40 442.24 L1409.46 444.31 L1406.43 446.35 L1403.31 448.38 L1400.10 450.38 L1396.80 452.35 L1393.41 454.30 L1389.93 456.22 L1386.37 458.11 L1382.72 459.97 L1378.98 461.81 L1375.16 463.61 L1371.26 465.38 L1367.28 467.11 L1363.21 468.82 L1359.07 470.48 L1354.85 472.11 L1350.56 473.71 L1346.18 475.26 L1341.74 476.78 L1337.23 478.26 L1332.64 479.69 L1327.99 481.09 L1323.27 482.44 L1318.49 483.75 L1313.64 485.02 L1308.74 486.24 L1303.77 487.41 L1298.75 488.54 L1293.68 489.62 L1288.55 490.66 L1283.38 491.65 L1278.16 492.58 L1272.89 493.47 L1267.58 494.31 L1262.23 495.10 L1256.85 495.83 L1251.42 496.52 L1245.97 497.15 L1240.48 497.73 L1234.97 498.25 L1229.43 498.73 L1223.87 499.15 L1218.30 499.51 L1212.70 499.83 L1207.09 500.09 L1201.45 500.29 L1195.80 500.44 L1190.15 500.53 L1184.49 500.57 L1178.83 500.56 L1173.17 500.48 L1167.52 500.36 L1161.88 500.18 L1156.25 499.94 L1150.62 499.65 L1145.02 499.31 L1139.44 498.91 L1133.87 498.45 L1128.33 497.95 L1122.82 497.39 L1117.33 496.77 L1111.88 496.11 L1106.46 495.39 L1101.08 494.62 L1095.74 493.80 L1090.44 492.93 L1085.18 492.00 L1079.97 491.03 L1074.81 490.01 L1069.70 488.95 L1064.65 487.83 L1059.65 486.67 L1054.71 485.46 L1049.82 484.20 L1045.00 482.91 L1040.25 481.56 L1035.56 480.18 L1030.93 478.75 L1026.38 477.28 L1021.90 475.78 L1017.49 474.23 L1013.15 472.64 L1008.89 471.02 L1004.71 469.36 L1000.61 467.66 L996.59 465.93 L992.65 464.17 L989.04 462.48 L985.50 460.78 L982.03 459.04 L978.65 457.28 L975.33 455.49 L972.10 453.68 L968.94 451.85 L965.86 449.99 L962.86 448.11 L959.94 446.21 L957.10 444.28 L954.34 442.34 L951.50 440.26 L948.74 438.16 L946.08 436.03 L943.52 433.89 L941.04 431.73 L938.66 429.56 L936.37 427.37 L934.18 425.17 L932.08 422.95 L930.07 420.72 L928.16 418.48 L926.34 416.23 L924.62 413.98 L923.06 411.80 L921.58 409.63 L920.19 407.44 L918.88 405.26 L917.66 403.06 L916.52 400.87 L915.47 398.67 L914.51 396.46 L913.62 394.26 L912.82 392.06 L912.10 389.85 L911.47 387.65 L910.91 385.45 L910.44 383.25 L910.05 381.05 L909.74 378.86 L909.51 376.67 L909.36 374.48 L909.28 372.20 L909.29 369.92 L909.39 367.65 L909.57 365.39 L909.83 363.14 L910.17 360.89 L910.60 358.66 L911.10 356.43 L911.69 354.22 L912.35 352.02 L913.10 349.83 L913.92 347.65 L914.81 345.49 L915.78 343.34 L916.83 341.20 L917.95 339.08 L919.14 336.98 L920.40 334.89 L921.73 332.82 L923.13 330.76 L924.60 328.72 L926.14 326.70" fill="none" stroke="#3d4047" stroke-width="1.40" stroke-linecap="round"/>
<path d="M1183.30 349.50 L1183.30 242.10" fill="none" stroke="#3d4047" stroke-width="1.40" stroke-linecap="round"/>
<path d="M1183.30 349.50 L1347.91 268.02" fill="none" stroke="#3d4047" stroke-width="1.40" stroke-linecap="round"/>
<path d="M1183.30 349.50 L1347.91 268.02" fill="none" stroke="#3d4047" stroke-width="1.40" stroke-linecap="round"/>
<path d="M1183.30 349.50 L1456.45 381.63" fill="none" stroke="#3d4047" stroke-width="1.40" stroke-linecap="round"/>
<path d="M1183.30 349.50 L1456.45 381.63" fill="none" stroke="#3d4047" stroke-width="1.40" stroke-linecap="round"/>
<path d="M1183.30 349.50 L1207.09 500.09" fill="none" stroke="#3d4047" stroke-width="1.40" stroke-linecap="round"/>
<path d="M1183.30 349.50 L1207.09 500.09" fill="none" stroke="#3d4047" stroke-width="1.40" stroke-linecap="round"/>
<path d="M1183.30 349.50 L992.65 464.17" fill="none" stroke="#3d4047" stroke-width="1.40" stroke-linecap="round"/>
<path d="M1183.30 349.50 L992.65 464.17" fill="none" stroke="#3d4047" stroke-width="1.40" stroke-linecap="round"/>
<path d="M1183.30 349.50 L954.34 442.34" fill="none" stroke="#3d4047" stroke-width="1.40" stroke-linecap="round"/>
<path d="M1183.30 349.50 L954.34 442.34" fill="none" stroke="#3d4047" stroke-width="1.40" stroke-linecap="round"/>
<path d="M1183.30 349.50 L924.62 413.98" fill="none" stroke="#3d4047" stroke-width="1.40" stroke-linecap="round"/>
<path d="M1183.30 349.50 L924.62 413.98" fill="none" stroke="#3d4047" stroke-width="1.40" stroke-linecap="round"/>
<path d="M1183.30 349.50 L909.36 374.48" fill="none" stroke="#3d4047" stroke-width="1.40" stroke-linecap="round"/>
<path d="M1183.30 349.50 L909.36 374.48" fill="none" stroke="#3d4047" stroke-width="1.40" stroke-linecap="round"/>
<path d="M1183.30 349.50 L926.14 326.70" fill="none" stroke="#3d4047" stroke-width="1.40" stroke-linecap="round"/>
<!-- labels -->
<text x="339.12" y="237.00" font-size="44.00" fill="#c8101a" textLength="56.29" lengthAdjust="spacingAndGlyphs">1%</text>
<text x="494.70" y="389.50" font-size="44.00" fill="#141420" textLength="80.74" lengthAdjust="spacingAndGlyphs">50%</text>
<text x="910.34" y="253.70" font-size="44.00" fill="#c8101a" textLength="80.80" lengthAdjust="spacingAndGlyphs">22%</text>
<text x="1201.29" y="290.70" font-size="44.00" fill="#141420" textLength="78.41" lengthAdjust="spacingAndGlyphs">12%</text>
<!-- legends -->
<rect x="79.15" y="626.25" width="9.8" height="9.8" rx="1.5" fill="#ffffff" stroke="#1f2530" stroke-width="3.9"/>
<text x="93.07" y="636.70" font-size="17.60" fill="#6f6f6f" textLength="66.97" lengthAdjust="spacingAndGlyphs">01 à 050</text>
<rect x="172.25" y="626.25" width="9.8" height="9.8" rx="1.5" fill="#ffffff" stroke="#1f2530" stroke-width="3.9"/>
<text x="186.97" y="636.70" font-size="17.60" fill="#6f6f6f" textLength="76.20" lengthAdjust="spacingAndGlyphs">051 à 075</text>
<rect x="274.55" y="626.25" width="9.8" height="9.8" rx="1.5" fill="#ffffff" stroke="#1f2530" stroke-width="3.9"/>
<text x="289.37" y="636.70" font-size="17.60" fill="#6f6f6f" textLength="76.05" lengthAdjust="spacingAndGlyphs">076 à 090</text>
<rect x="377.45" y="626.25" width="9.8" height="9.8" rx="1.5" fill="#ffffff" stroke="#1f2530" stroke-width="3.9"/>
<text x="392.07" y="636.70" font-size="17.60" fill="#6f6f6f" textLength="76.30" lengthAdjust="spacingAndGlyphs">091 à 095</text>
<rect x="479.85" y="626.25" width="9.8" height="9.8" rx="1.5" fill="#ffffff" stroke="#1f2530" stroke-width="3.9"/>
<text x="494.84" y="636.70" font-size="17.60" fill="#6f6f6f" textLength="29.73" lengthAdjust="spacingAndGlyphs">096</text>
<rect x="535.95" y="626.25" width="9.8" height="9.8" rx="1.5" fill="#ffffff" stroke="#1f2530" stroke-width="3.9"/>
<text x="550.76" y="636.70" font-size="17.60" fill="#6f6f6f" textLength="28.89" lengthAdjust="spacingAndGlyphs">097</text>
<rect x="591.95" y="626.25" width="9.8" height="9.8" rx="1.5" fill="#ffffff" stroke="#1f2530" stroke-width="3.9"/>
<text x="606.76" y="636.70" font-size="17.60" fill="#6f6f6f" textLength="29.05" lengthAdjust="spacingAndGlyphs">098</text>
<rect x="647.85" y="626.25" width="9.8" height="9.8" rx="1.5" fill="#ffffff" stroke="#1f2530" stroke-width="3.9"/>
<text x="662.65" y="636.70" font-size="17.60" fill="#6f6f6f" textLength="29.42" lengthAdjust="spacingAndGlyphs">099</text>
<rect x="703.20" y="625.80" width="10.7" height="10.7" rx="1.8" fill="url(#rdot)" stroke="#1f2530" stroke-width="3.0"/>
<text x="718.85" y="636.70" font-size="17.60" fill="#6f6f6f" textLength="29.36" lengthAdjust="spacingAndGlyphs">100</text>
<rect x="853.65" y="626.85" width="9.8" height="9.8" rx="1.5" fill="#ffffff" stroke="#1f2530" stroke-width="3.9"/>
<text x="867.57" y="637.30" font-size="17.60" fill="#6f6f6f" textLength="66.97" lengthAdjust="spacingAndGlyphs">01 à 050</text>
<rect x="946.05" y="626.85" width="9.8" height="9.8" rx="1.5" fill="#ffffff" stroke="#1f2530" stroke-width="3.9"/>
<text x="960.77" y="637.30" font-size="17.60" fill="#6f6f6f" textLength="76.20" lengthAdjust="spacingAndGlyphs">051 à 075</text>
<rect x="1048.35" y="626.85" width="9.8" height="9.8" rx="1.5" fill="#ffffff" stroke="#1f2530" stroke-width="3.9"/>
<text x="1063.17" y="637.30" font-size="17.60" fill="#6f6f6f" textLength="76.05" lengthAdjust="spacingAndGlyphs">076 à 090</text>
<rect x="1151.15" y="626.85" width="9.8" height="9.8" rx="1.5" fill="#ffffff" stroke="#1f2530" stroke-width="3.9"/>
<text x="1165.77" y="637.30" font-size="17.60" fill="#6f6f6f" textLength="76.30" lengthAdjust="spacingAndGlyphs">091 à 095</text>
<rect x="1253.45" y="626.85" width="9.8" height="9.8" rx="1.5" fill="#ffffff" stroke="#1f2530" stroke-width="3.9"/>
<text x="1268.44" y="637.30" font-size="17.60" fill="#6f6f6f" textLength="29.73" lengthAdjust="spacingAndGlyphs">096</text>
<rect x="1309.15" y="626.85" width="9.8" height="9.8" rx="1.5" fill="#ffffff" stroke="#1f2530" stroke-width="3.9"/>
<text x="1323.96" y="637.30" font-size="17.60" fill="#6f6f6f" textLength="28.89" lengthAdjust="spacingAndGlyphs">097</text>
<rect x="1365.15" y="626.85" width="9.8" height="9.8" rx="1.5" fill="#ffffff" stroke="#1f2530" stroke-width="3.9"/>
<text x="1379.96" y="637.30" font-size="17.60" fill="#6f6f6f" textLength="29.05" lengthAdjust="spacingAndGlyphs">098</text>
<rect x="1420.85" y="626.85" width="9.8" height="9.8" rx="1.5" fill="#ffffff" stroke="#1f2530" stroke-width="3.9"/>
<text x="1435.65" y="637.30" font-size="17.60" fill="#6f6f6f" textLength="29.42" lengthAdjust="spacingAndGlyphs">099</text>
<rect x="1476.50" y="626.40" width="10.7" height="10.7" rx="1.8" fill="url(#rdot)" stroke="#1f2530" stroke-width="3.0"/>
<text x="1492.15" y="637.30" font-size="17.60" fill="#6f6f6f" textLength="29.36" lengthAdjust="spacingAndGlyphs">100</text>
<!-- source -->
<rect x="39.5" y="696.4" width="76.2" height="2.5" fill="#1d7a8e"/>
<text x="39.51" y="693.40" font-size="20.50" font-style="italic" fill="#1d7a8e" textLength="75.53" lengthAdjust="spacingAndGlyphs">Source :</text><text x="120.67" y="693.40" font-size="20.50" font-style="italic" fill="#1d7a8e" textLength="102.29" lengthAdjust="spacingAndGlyphs">Baromètre</text><text x="226.97" y="693.40" font-size="20.50" font-style="italic" fill="#1d7a8e" textLength="25.22" lengthAdjust="spacingAndGlyphs">de</text><text x="256.64" y="693.40" font-size="20.50" font-style="italic" fill="#1d7a8e" textLength="16.70" lengthAdjust="spacingAndGlyphs">la</text><text x="280.50" y="693.40" font-size="20.50" font-style="italic" fill="#1d7a8e" textLength="99.46" lengthAdjust="spacingAndGlyphs">générosité</text><text x="385.41" y="693.40" font-size="20.50" font-style="italic" fill="#1d7a8e" textLength="24.42" lengthAdjust="spacingAndGlyphs">S1</text><text x="415.25" y="693.40" font-size="20.50" font-style="italic" fill="#1d7a8e" textLength="45.10" lengthAdjust="spacingAndGlyphs">2022</text><text x="468.05" y="693.40" font-size="20.50" font-style="italic" fill="#1d7a8e" textLength="11.40" lengthAdjust="spacingAndGlyphs">«</text><text x="484.74" y="693.40" font-size="20.50" font-style="italic" fill="#1d7a8e" textLength="55.74" lengthAdjust="spacingAndGlyphs">vision</text><text x="545.19" y="693.40" font-size="20.50" font-style="italic" fill="#1d7a8e" textLength="87.62" lengthAdjust="spacingAndGlyphs">donateur</text><text x="640.20" y="693.40" font-size="20.50" font-style="italic" fill="#1d7a8e" textLength="9.76" lengthAdjust="spacingAndGlyphs">»</text><text x="656.00" y="693.40" font-size="20.50" font-style="italic" fill="#1d7a8e" textLength="8.19" lengthAdjust="spacingAndGlyphs">-</text><text x="669.85" y="693.40" font-size="20.50" font-style="italic" fill="#1d7a8e" textLength="20.72" lengthAdjust="spacingAndGlyphs">37</text><text x="698.30" y="693.40" font-size="20.50" font-style="italic" fill="#1d7a8e" textLength="129.46" lengthAdjust="spacingAndGlyphs">organisations</text>
</svg>
</body></html>
